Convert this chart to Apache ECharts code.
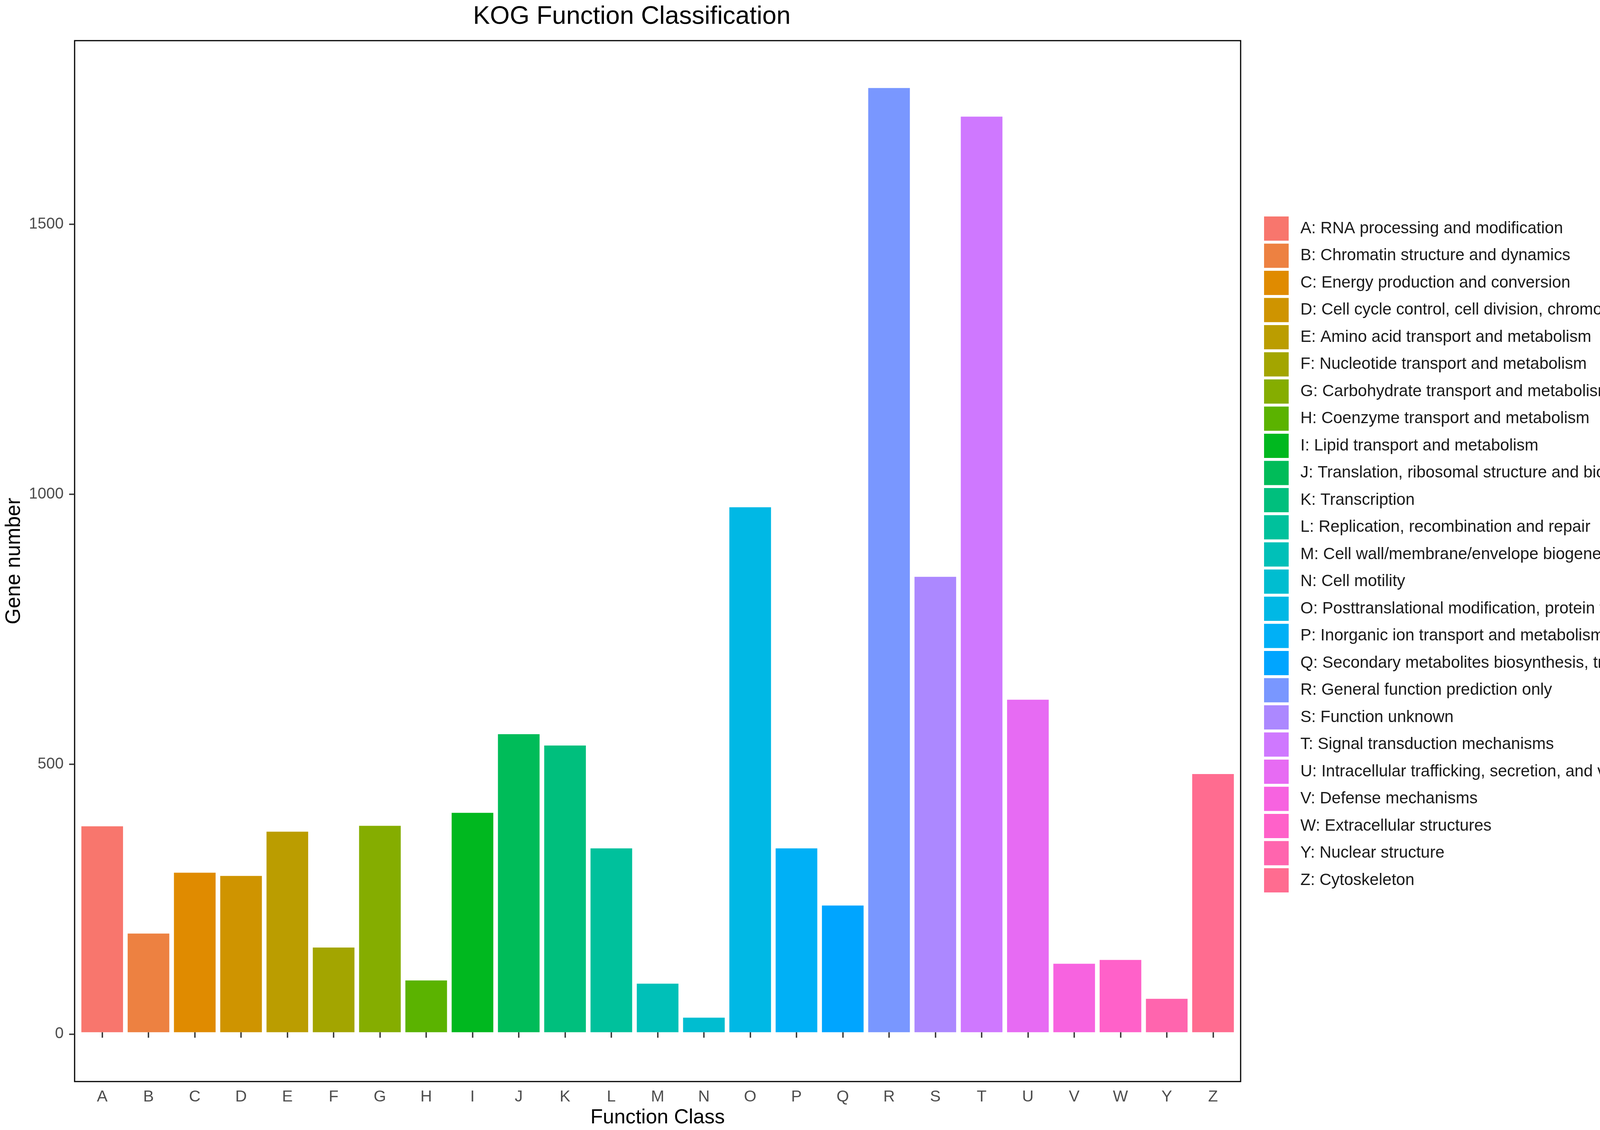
<!DOCTYPE html>
<html>
<head>
<meta charset="utf-8">
<title>KOG Function Classification</title>
<script src="https://cdn.jsdelivr.net/npm/echarts@6/dist/echarts.min.js"></script>
<style>
  html, body { margin: 0; padding: 0; background: #fff; }
  #chartContainer { width: 4550px; height: 2892px; }
</style>
</head>
<body>
<div id="chartContainer"></div>
<script>
// KOG classes (no X in the source figure)
const categories = ['A', 'B', 'C', 'D', 'E', 'F', 'G', 'H', 'I', 'J', 'K', 'L', 'M',
  'N', 'O', 'P', 'Q', 'R', 'S', 'T', 'U', 'V', 'W', 'Y', 'Z'];

const classNames = [
  'RNA processing and modification',
  'Chromatin structure and dynamics',
  'Energy production and conversion',
  'Cell cycle control, cell division, chromosome partitioning',
  'Amino acid transport and metabolism',
  'Nucleotide transport and metabolism',
  'Carbohydrate transport and metabolism',
  'Coenzyme transport and metabolism',
  'Lipid transport and metabolism',
  'Translation, ribosomal structure and biogenesis',
  'Transcription',
  'Replication, recombination and repair',
  'Cell wall/membrane/envelope biogenesis',
  'Cell motility',
  'Posttranslational modification, protein turnover, chaperones',
  'Inorganic ion transport and metabolism',
  'Secondary metabolites biosynthesis, transport and catabolism',
  'General function prediction only',
  'Function unknown',
  'Signal transduction mechanisms',
  'Intracellular trafficking, secretion, and vesicular transport',
  'Defense mechanisms',
  'Extracellular structures',
  'Nuclear structure',
  'Cytoskeleton'
];

// gene number per class
const geneCounts = [382, 183, 296, 290, 372, 157, 383, 96, 407, 553, 532, 341, 90,
  27, 974, 341, 235, 1752, 845, 1699, 617, 127, 134, 62, 479];

const yTicks = [0, 500, 1000, 1500];
const yMin = -88;
const yMax = 1840;

const FONT = '"Liberation Sans", Arial, Helvetica, sans-serif';

// ggplot2 default hue palette: hcl(h, c = 100, l = 65)
function hclToHex(h, c, l) {
  const hr = h * Math.PI / 180;
  const U = c * Math.cos(hr), V = c * Math.sin(hr);
  const Xn = 95.047, Yn = 100, Zn = 108.883;
  const un = 4 * Xn / (Xn + 15 * Yn + 3 * Zn);
  const vn = 9 * Yn / (Xn + 15 * Yn + 3 * Zn);
  const Y = l > 8 ? Yn * Math.pow((l + 16) / 116, 3) : Yn * l / 903.3;
  const u = U / (13 * l) + un, v = V / (13 * l) + vn;
  const X = 9 * Y * u / (4 * v);
  const Z = -X / 3 - 5 * Y + 3 * Y / v;
  const x = X / 100, y = Y / 100, z = Z / 100;
  const lin = [
    3.240479 * x - 1.537150 * y - 0.498535 * z,
    -0.969256 * x + 1.875992 * y + 0.041556 * z,
    0.055648 * x - 0.204043 * y + 1.057311 * z
  ];
  return '#' + lin.map(function (ch) {
    let g = ch <= 0.0031308 ? 12.92 * ch : 1.055 * Math.pow(ch, 1 / 2.4) - 0.055;
    g = Math.min(1, Math.max(0, g));
    return Math.round(g * 255).toString(16).padStart(2, '0');
  }).join('');
}

function huePalette(n) {
  const out = [];
  const step = 360 / n;
  for (let i = 0; i < n; i++) {
    out.push(hclToHex(15 + step * i, 100, 65));
  }
  return out;
}

function initChart() {
  const chartContainer = document.getElementById('chartContainer');
  const chart = echarts.init(chartContainer);
  const palette = huePalette(categories.length);
  const legendNames = categories.map((c, i) => c + ': ' + classNames[i]);

  // panel of the ggplot figure; bars sit inside with 0.6 category of padding
  const panel = { left: 191, right: 1374, top: 104, bottom: 124 };
  const step = (4550 - panel.left - panel.right) / (categories.length + 1.2);
  const pad = step * 0.1;

  // one series per class so every class gets its own legend entry
  const series = categories.map(function (c, i) {
    return {
      name: legendNames[i],
      type: 'bar',
      stack: 'kog',
      xAxisIndex: 0,
      yAxisIndex: 0,
      barWidth: '90%',
      itemStyle: { color: palette[i] },
      data: geneCounts.map((v, j) => (j === i ? v : '-'))
    };
  });

  chart.setOption({
    animation: false,
    backgroundColor: '#fff',
    textStyle: { fontFamily: FONT },
    title: {
      text: 'KOG Function Classification',
      left: 1206,
      top: 6,
      textStyle: { fontFamily: FONT, fontSize: 65, fontWeight: 'normal', color: '#000' }
    },
    legend: {
      orient: 'vertical',
      left: 3236,
      top: 554,
      padding: 0,
      itemWidth: 63,
      itemHeight: 62,
      itemGap: 7.5,
      icon: 'rect',
      selectedMode: false,
      data: legendNames,
      textStyle: { fontFamily: FONT, fontSize: 42, color: '#1a1a1a', padding: [0, 0, 0, 25] }
    },
    grid: [
      // bars
      { left: panel.left + pad, right: panel.right + pad, top: panel.top, bottom: panel.bottom },
      // frame + y axis
      {
        left: panel.left, right: panel.right, top: panel.top, bottom: panel.bottom,
        show: true, borderColor: '#000', borderWidth: 3, backgroundColor: 'transparent'
      }
    ],
    xAxis: [
      {
        gridIndex: 0,
        type: 'category',
        data: categories,
        axisLine: { show: false },
        axisTick: { show: true, alignWithLabel: true, length: 14, lineStyle: { color: '#333', width: 3.5 } },
        axisLabel: { margin: 24, fontSize: 41, color: '#4d4d4d', fontFamily: FONT },
        name: 'Function Class',
        nameLocation: 'middle',
        nameGap: 72,
        nameTextStyle: { fontSize: 52, color: '#000', fontFamily: FONT }
      },
      { gridIndex: 1, type: 'category', data: categories, show: false }
    ],
    yAxis: [
      { gridIndex: 0, type: 'value', min: yMin, max: yMax, show: false },
      {
        gridIndex: 1,
        type: 'value',
        min: yMin,
        max: yMax,
        axisLine: { show: false },
        splitLine: { show: false },
        axisTick: { show: true, length: 14, lineStyle: { color: '#333', width: 3.5 }, customValues: yTicks },
        axisLabel: {
          margin: 28, fontSize: 40, color: '#4d4d4d', fontFamily: FONT,
          customValues: yTicks,
          formatter: (v) => String(v)
        },
        name: 'Gene number',
        nameLocation: 'middle',
        nameGap: 128,
        nameTextStyle: { fontSize: 53, color: '#000', fontFamily: FONT }
      }
    ],
    series: series
  });
  return chart;
}

initChart();
</script>
</body>
</html>
